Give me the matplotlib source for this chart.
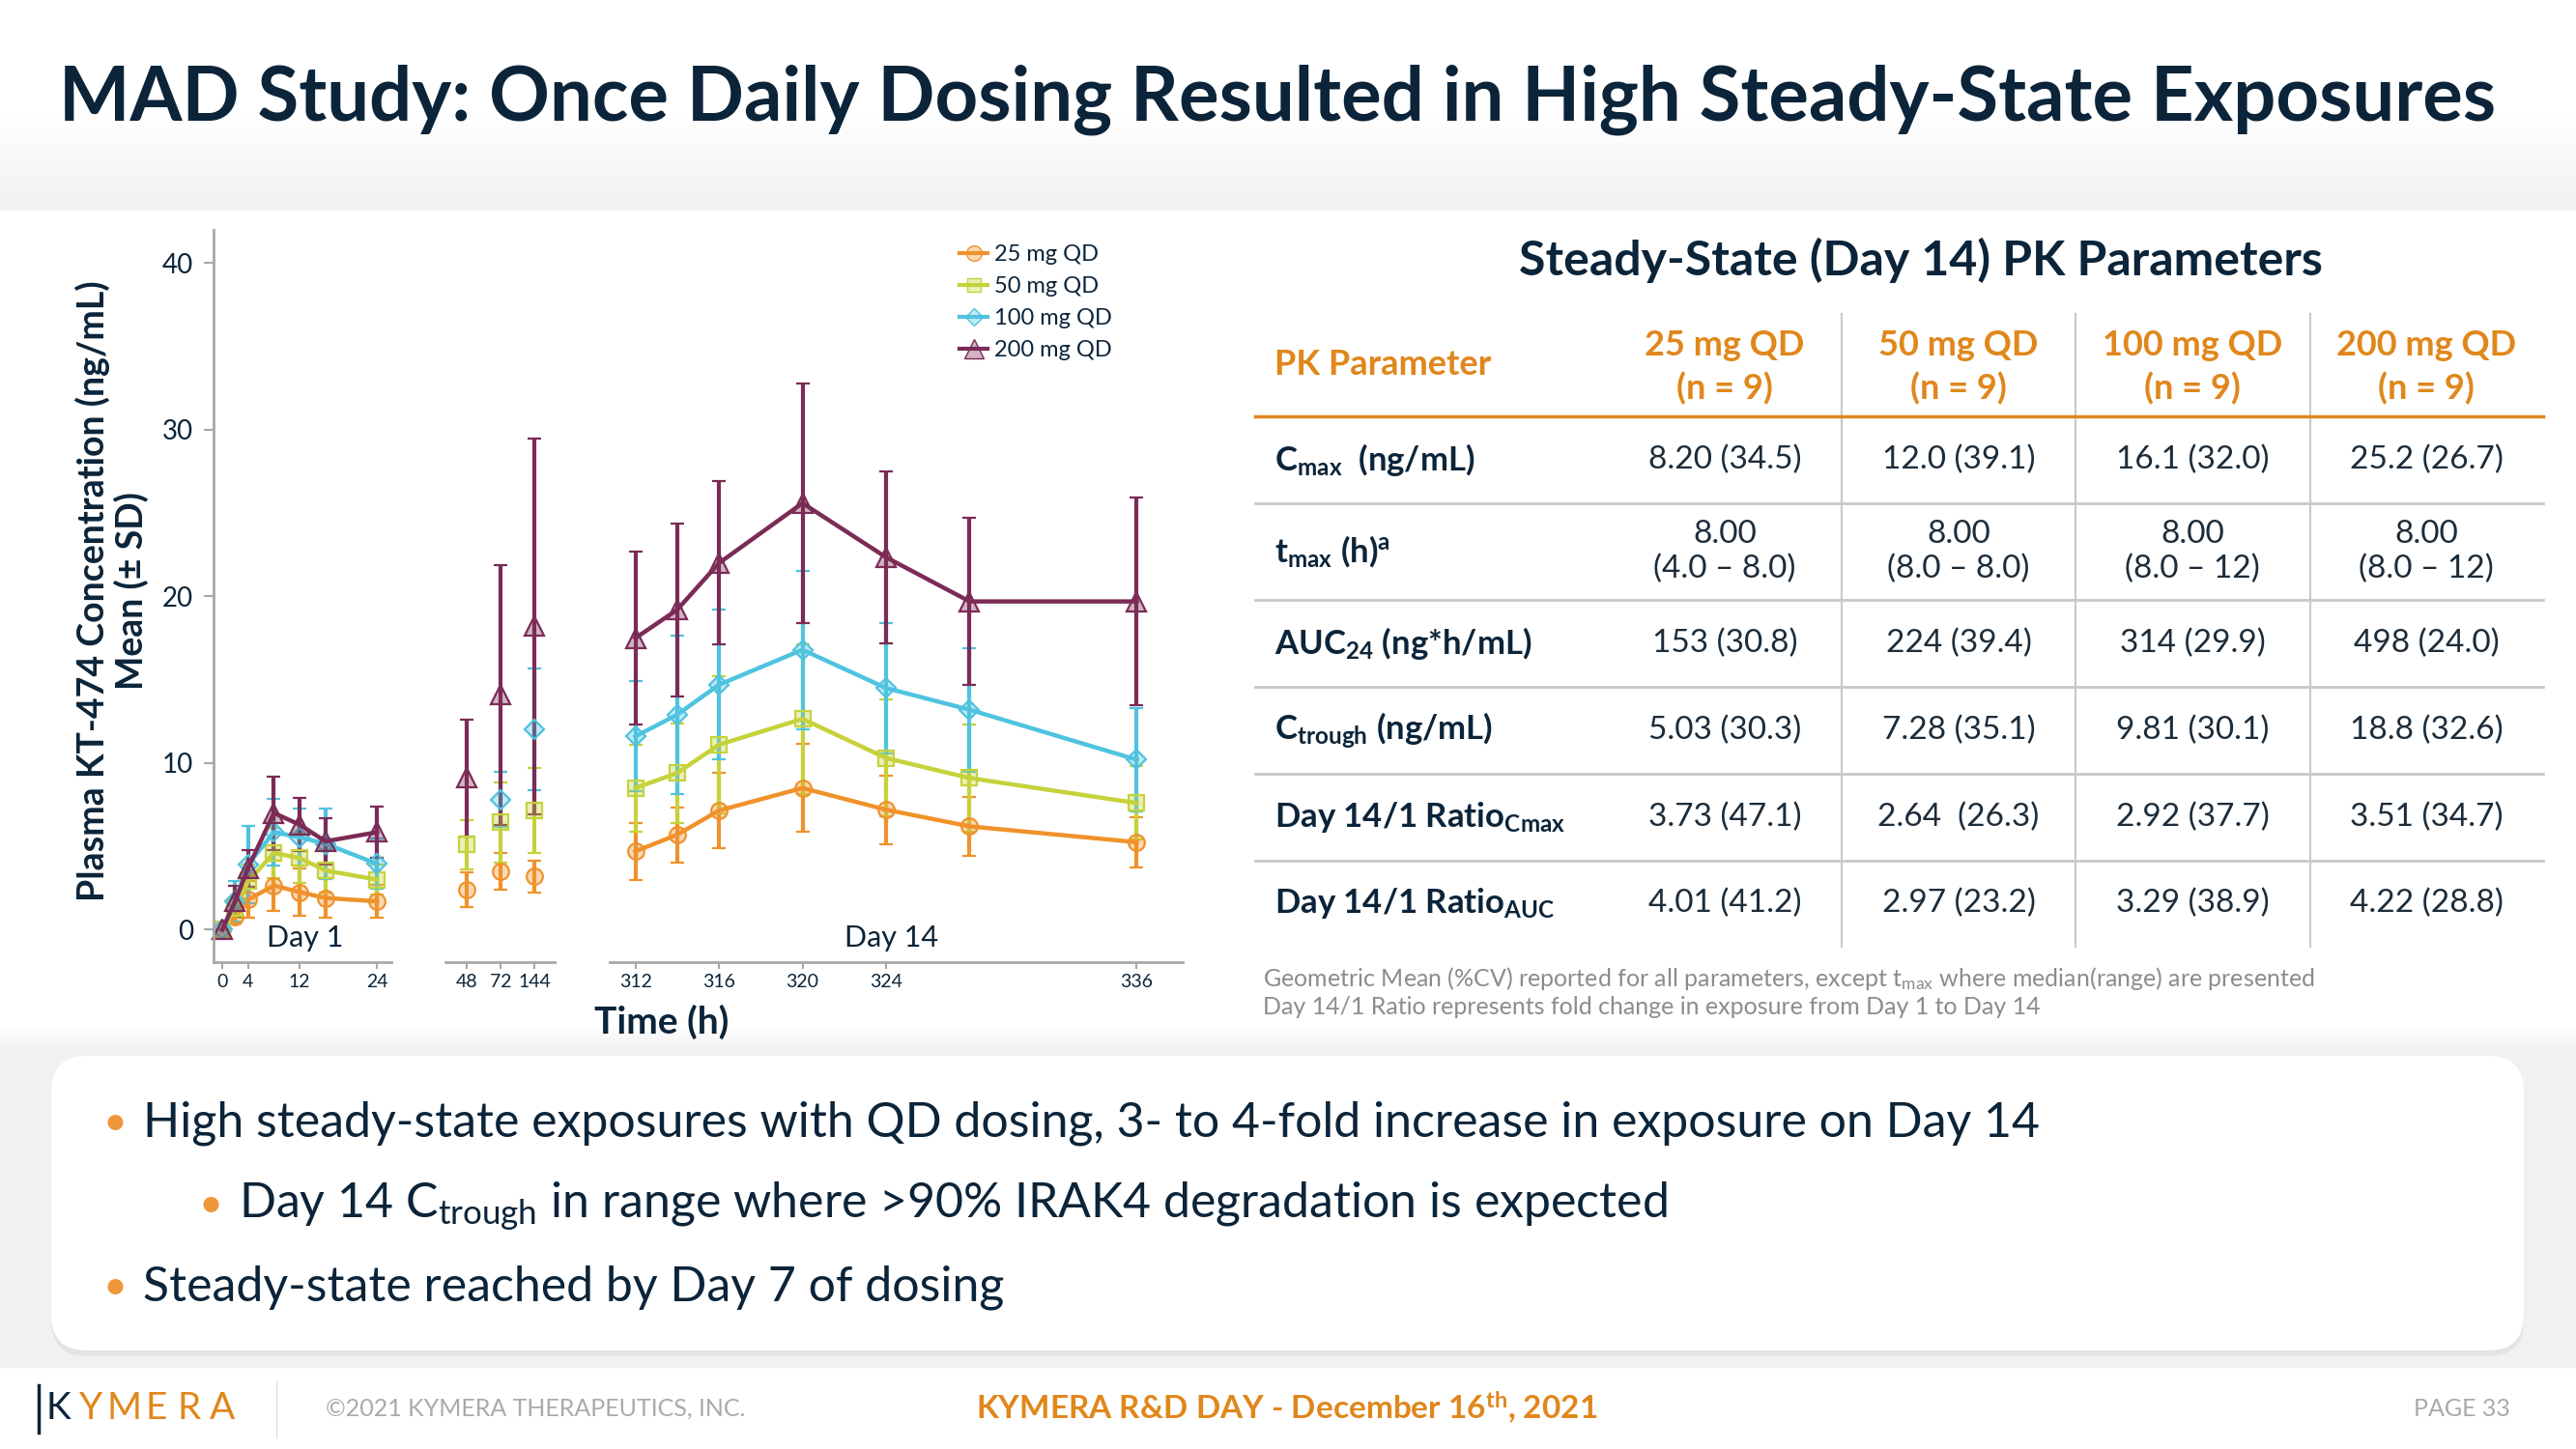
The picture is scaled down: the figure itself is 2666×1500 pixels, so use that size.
import numpy as np
import matplotlib
matplotlib.use("Agg")
import matplotlib.pyplot as plt
from matplotlib.colors import to_rgba, LinearSegmentedColormap
from matplotlib.patches import Rectangle, FancyBboxPatch
from matplotlib.lines import Line2D

plt.rcParams['font.family'] = ['Lato', 'DejaVu Sans']
plt.rcParams['mathtext.fontset'] = 'custom'
plt.rcParams['mathtext.rm'] = 'Lato:bold'
plt.rcParams['mathtext.bf'] = 'Lato:bold'
plt.rcParams['mathtext.sf'] = 'Lato'
plt.rcParams['mathtext.it'] = 'Lato:italic'

NAVY = '#0b2439'
ORANGE = '#e0871c'
GREY = '#a8a8a8'

# ---- chart data (mean, SD in ng/mL) ----
doses = ['25 mg QD', '50 mg QD', '100 mg QD', '200 mg QD']
colors = ['#f0922b', '#c6d23a', '#4fc3e0', '#7b2b56']
markers = ['o', 's', 'D', '^']
msizes = [12, 11, 10, 15]

day1_t = [0, 2, 4, 8, 12, 16, 24]
day1_mean = [[0, 0.75, 1.8, 2.65, 2.25, 1.9, 1.7],
             [0, 1.3, 2.9, 4.6, 4.3, 3.55, 3.0],
             [0, 1.7, 3.9, 5.85, 5.55, 5.15, 3.95],
             [0, 1.7, 3.7, 7.0, 6.3, 5.3, 5.85]]
day1_sd = [[0, 0.4, 1.1, 1.5, 1.4, 1.2, 1.0],
           [0, 0.6, 1.0, 1.5, 1.5, 1.3, 0.9],
           [0, 1.2, 2.3, 2.0, 1.7, 2.1, 1.5],
           [0, 0.95, 1.1, 2.2, 1.6, 1.4, 1.55]]

mid_labels = ['48', '72', '144']
mid_mean = [[2.4, 3.5, 3.2],
            [5.1, 6.45, 7.15],
            [np.nan, 7.8, 12.0],
            [9.1, 14.1, 18.2]]
mid_sd = [[1.05, 1.1, 0.95],
          [1.5, 2.4, 2.55],
          [np.nan, 1.65, 3.65],
          [3.5, 7.8, 11.3]]

day14_t = [312, 314, 316, 320, 324, 328, 336]
day14_mean = [[4.7, 5.7, 7.15, 8.5, 7.2, 6.2, 5.25],
              [8.5, 9.4, 11.1, 12.65, 10.3, 9.1, 7.6],
              [11.6, 12.9, 14.7, 16.8, 14.5, 13.2, 10.2],
              [17.5, 19.2, 22.0, 25.6, 22.35, 19.7, 19.7]]
day14_sd = [[1.7, 1.65, 2.25, 2.65, 2.05, 1.75, 1.5],
            [2.6, 3.0, 4.1, 4.5, 3.5, 3.2, 2.2],
            [3.3, 4.75, 4.5, 4.75, 3.9, 3.7, 3.1],
            [5.2, 5.2, 4.9, 7.2, 5.15, 5.0, 6.25]]

# ---- table data ----
table_title = 'Steady-State (Day 14) PK Parameters'
col_heads = ['25 mg QD', '50 mg QD', '100 mg QD', '200 mg QD']
row_labels = [r'C$_\mathrm{max}$  (ng/mL)', r't$_\mathrm{max}$ (h)$^\mathrm{a}$',
              r'AUC$_\mathrm{24}$ (ng*h/mL)', r'C$_\mathrm{trough}$ (ng/mL)',
              r'Day 14/1 Ratio$_\mathrm{Cmax}$', r'Day 14/1 Ratio$_\mathrm{AUC}$']
cells = [['8.20 (34.5)', '12.0 (39.1)', '16.1 (32.0)', '25.2 (26.7)'],
         ['8.00\n(4.0 – 8.0)', '8.00\n(8.0 – 8.0)', '8.00\n(8.0 – 12)', '8.00\n(8.0 – 12)'],
         ['153 (30.8)', '224 (39.4)', '314 (29.9)', '498 (24.0)'],
         ['5.03 (30.3)', '7.28 (35.1)', '9.81 (30.1)', '18.8 (32.6)'],
         ['3.73 (47.1)', '2.64  (26.3)', '2.92 (37.7)', '3.51 (34.7)'],
         ['4.01 (41.2)', '2.97 (23.2)', '3.29 (38.9)', '4.22 (28.8)']]
footnotes = [r'Geometric Mean (%CV) reported for all parameters, except t$_\mathsf{max}$ where median(range) are presented',
             'Day 14/1 Ratio represents fold change in exposure from Day 1 to Day 14']

bullets = [(0, 'High steady-state exposures with QD dosing, 3- to 4-fold increase in exposure on Day 14'),
           (1, r'Day 14 C$_\mathsf{trough}$ in range where >90% IRAK4 degradation is expected'),
           (0, 'Steady-state reached by Day 7 of dosing')]

W, H = 2666, 1500
fig = plt.figure(figsize=(W / 100, H / 100), dpi=100)

# background layer in pixel coordinates
bg = fig.add_axes([0, 0, 1, 1])
bg.set_xlim(0, W)
bg.set_ylim(H, 0)
bg.axis('off')
grad = np.linspace(0, 1, 200).reshape(-1, 1)
cm = LinearSegmentedColormap.from_list('g', ['#ffffff', '#f1f1f1'])
bg.imshow(grad, extent=[0, W, 218, 120], cmap=cm, aspect='auto', zorder=0)
bg.imshow(grad, extent=[0, W, 1090, 1060], cmap=cm, aspect='auto', zorder=0)
bg.add_patch(Rectangle((0, 1090), W, 325, color='#f1f1f1', zorder=0))
bg.add_patch(FancyBboxPatch((53, 1099), 2559, 305, boxstyle='round,pad=0,rounding_size=37',
                            fc='#e4e4e4', ec='none', zorder=1))
bg.add_patch(FancyBboxPatch((53, 1093), 2559, 305, boxstyle='round,pad=0,rounding_size=37',
                            fc='white', ec='none', zorder=2))

bg.text(61, 103, 'MAD Study: Once Daily Dosing Resulted in High Steady-State Exposures',
        fontsize=56, fontweight='bold', color=NAVY, va='center', ha='left')

# bullets
for (lvl, txt), yy in zip(bullets, [1163, 1248, 1333]):
    bx = 119 if lvl == 0 else 218
    bg.text(bx, yy, '•', fontsize=31, color='#f0963a', va='center', ha='center', zorder=3)
    bg.text(bx + 29, yy, txt, fontsize=36, color=NAVY, va='center', ha='left', zorder=3)

# footer
logo = 'KYMERA'
for i, ch in enumerate(logo):
    bg.text(60 + i * 34, 1458, ch, fontsize=28, color=NAVY if i == 0 else ORANGE,
            va='center', ha='center')
bg.plot([40, 40], [1434, 1483], color=NAVY, lw=2.5)
bg.plot([286, 286], [1430, 1488], color='#dddddd', lw=1)
bg.text(337, 1458, '©2021 KYMERA THERAPEUTICS, INC.', fontsize=18, color='#aaaaaa', va='center')
bg.text(1332, 1457, r'KYMERA R&D DAY - December 16$^\mathrm{th}$, 2021', fontsize=24,
        color=ORANGE, fontweight='bold', va='center', ha='center')
bg.text(2598, 1458, 'PAGE 33', fontsize=18, color='#aaaaaa', va='center', ha='right')

# ---- table ----
bg.text(1988, 269, table_title, fontsize=36, fontweight='bold', color=NAVY, ha='center', va='center')
tx0, tx1 = 1299, 2632
col_cx = [1785, 2027, 2269, 2511]
row_cy = [476, 571, 666, 756, 846, 935]
for xv in [1906, 2148, 2391]:
    bg.plot([xv, xv], [325, 980], color='#c8c8c8', lw=1.5)
bg.plot([tx0, tx1], [431, 431], color=ORANGE, lw=2.5)
for yv in [521, 621, 711, 801, 891]:
    bg.plot([tx0, tx1], [yv, yv], color='#c8c8c8', lw=2)
bg.text(1319, 377, 'PK Parameter', fontsize=26, color=ORANGE, fontweight='bold', va='center')
for cx, head in zip(col_cx, col_heads):
    bg.text(cx, 357, head, fontsize=26, color=ORANGE, fontweight='bold', ha='center', va='center')
    bg.text(cx, 402, '(n = 9)', fontsize=26, color=ORANGE, fontweight='bold', ha='center', va='center')
for cy, lab, row in zip(row_cy, row_labels, cells):
    bg.text(1319, cy, lab, fontsize=25, color=NAVY, fontweight='bold', va='center')
    for cx, val in zip(col_cx, row):
        bg.text(cx, cy, val, fontsize=24, color='#1c2c3a', ha='center', va='center',
                linespacing=1.2)
for yy, note in zip([1013, 1042], footnotes):
    bg.text(1307, yy, note, fontsize=18, color='#8c8c8c', va='center')

# ---- chart: three x segments sharing the y scale ----
def rect(x0, x1, ytop=238, ybot=996):
    return [x0 / W, 1 - ybot / H, (x1 - x0) / W, (ybot - ytop) / H]

ax1 = fig.add_axes(rect(221, 405))
ax2 = fig.add_axes(rect(461, 574))
ax3 = fig.add_axes(rect(631, 1224))
ylim = (-1.95, 42.0)

for ax in (ax1, ax2, ax3):
    ax.set_facecolor('none')
    ax.set_ylim(*ylim)
    for s in ['top', 'right', 'left']:
        ax.spines[s].set_visible(False)
    ax.spines['bottom'].set_color(GREY)
    ax.spines['bottom'].set_linewidth(2)
    ax.tick_params(axis='x', colors=GREY, labelcolor=NAVY, labelsize=14, length=5, width=1.5, pad=4)
    ax.set_yticks([])

ax1.spines['left'].set_visible(True)
ax1.spines['left'].set_color(GREY)
ax1.spines['left'].set_linewidth(2)
ax1.set_yticks([0, 10, 20, 30, 40])
ax1.tick_params(axis='y', colors=GREY, labelcolor=NAVY, labelsize=20, length=7, width=1.5, pad=8)

ax1.set_xlim(-1.35, 26.2)
ax1.set_xticks([0, 4, 12, 24])
ax2.set_xlim(-0.61, 2.58)
ax2.set_xticks(range(3))
ax2.set_xticklabels(mid_labels)
ax3.set_xlim(310.77, 338.2)
ax3.set_xticks([312, 316, 320, 324, 336])

for i in range(4):
    c = colors[i]
    style = dict(color=c, marker=markers[i], ms=msizes[i], mfc=to_rgba(c, 0.35), mec=c, mew=1.6,
                 elinewidth=3, capsize=5, capthick=3, clip_on=False)
    ax1.errorbar(day1_t, day1_mean[i], yerr=day1_sd[i], lw=3.2, **style)
    ax2.errorbar(range(3), mid_mean[i], yerr=mid_sd[i], ls='none', **style)
    ax3.errorbar(day14_t, day14_mean[i], yerr=day14_sd[i], lw=3.2, **style)

handles = [Line2D([], [], color=c, marker=m, ms=ms * 0.95, mfc=to_rgba(c, 0.35), mec=c, lw=3)
           for c, m, ms in zip(colors, markers, msizes)]
fig.legend(handles, doses, loc='upper left', bbox_to_anchor=(984 / W, 1 - 244 / H), frameon=False,
           fontsize=17, handlelength=1.2, handletextpad=0.3, labelspacing=0.5, borderaxespad=0,
           labelcolor=NAVY)

bg.text(316, 971, 'Day 1', fontsize=22, color=NAVY, ha='center', va='center')
bg.text(922, 971, 'Day 14', fontsize=22, color=NAVY, ha='center', va='center')
bg.text(685, 1058, 'Time (h)', fontsize=28, color=NAVY, fontweight='bold', ha='center', va='center')
bg.text(116, 612, 'Plasma KT-474 Concentration (ng/mL)\nMean (± SD)', fontsize=27,
        fontweight='bold', color=NAVY, rotation=90, ha='center', va='center', linespacing=1.1)

fig.savefig('out.png', dpi=100)
